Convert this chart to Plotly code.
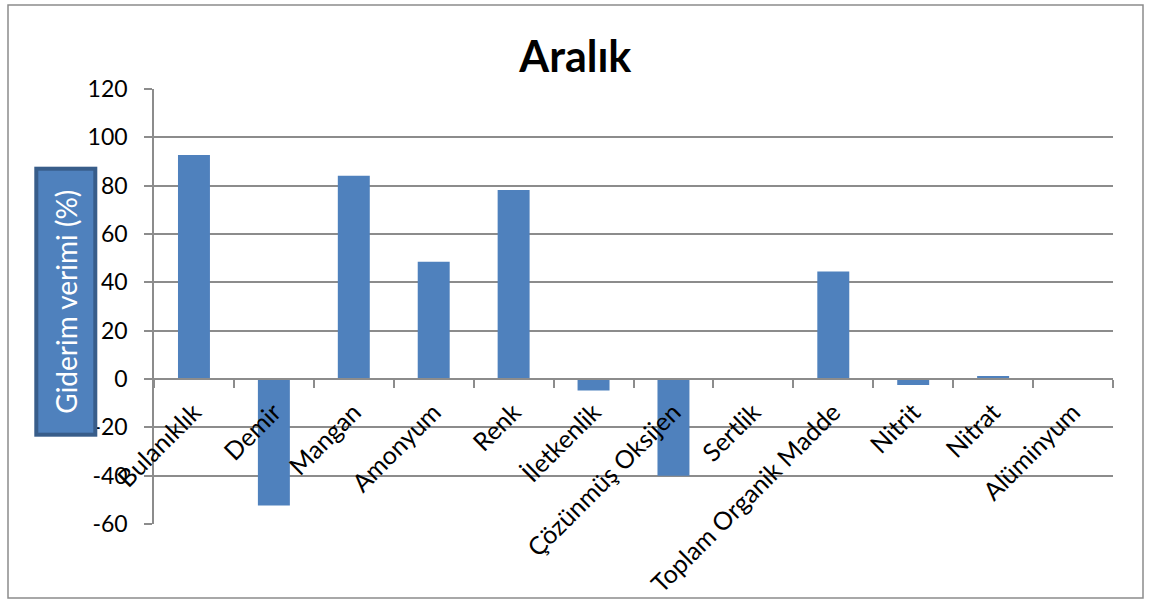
import plotly.graph_objects as go

# Giderim verimi, Aralık ayı
categories = ["Bulanıklık", "Demir", "Mangan", "Amonyum", "Renk", "İletkenlik",
              "Çözünmüş Oksijen", "Sertlik", "Toplam Organik Madde", "Nitrit",
              "Nitrat", "Alüminyum"]
values = [92.7, -52.3, 84.1, 48.5, 78.2, -4.8, -40.0, 0, 44.5, -2.5, 1.2, 0]
y_ticks = [-60, -40, -20, 0, 20, 40, 60, 80, 100, 120]
y_tick_labels = ["-60", "-40", "-20", "0", "20", "40", "60", "80", "100", "120"]

y_min, y_max = y_ticks[0], y_ticks[-1]
zero_pos = (0 - y_min) / (y_max - y_min)

W, H = 1153, 602
FONT = "Lato"
BAR = "#4F81BD"
GRID = "#8C8C8C"

fig = go.Figure(
    go.Bar(x=categories, y=values, marker=dict(color=BAR, line=dict(width=0)),
           showlegend=False)
)

fig.update_layout(
    width=W, height=H,
    margin=dict(l=154, r=40, t=89, b=78, autoexpand=False),
    paper_bgcolor="white", plot_bgcolor="white",
    bargap=0.6,
    title=dict(text="<b>Aralık</b>", x=0.499, xanchor="center", y=0.905, yanchor="middle",
               xref="container",
               font=dict(family=FONT, size=43, color="black")),
    font=dict(family=FONT, color="black"),
    xaxis=dict(
        type="category", anchor="free", position=zero_pos, automargin=False,
        showline=True, linecolor=GRID, linewidth=1.5,
        ticks="outside", ticklen=8, tickwidth=1.5, tickcolor=GRID,
        tickson="boundaries", showgrid=False, zeroline=False,
        tickangle=-45, tickfont=dict(family=FONT, size=25, color="black"),
        ticklabelstandoff=8,
    ),
    yaxis=dict(
        range=[y_min, y_max], tickvals=y_ticks, ticktext=y_tick_labels,
        automargin=False,
        showline=True, linecolor=GRID, linewidth=1.5,
        ticks="outside", ticklen=8, tickwidth=1.5, tickcolor=GRID,
        showgrid=True, gridcolor=GRID, gridwidth=1.5, zeroline=False,
        tickfont=dict(family=FONT, size=23, color="black"),
        ticklabelstandoff=12,
    ),
    shapes=[
        # chart border
        dict(type="rect", xref="paper", yref="paper", layer="below",
             x0=-146 / 959, x1=1 + 30 / 959, y0=-74 / 435, y1=1 + 84 / 435,
             line=dict(color="#8C8C8C", width=1.5), fillcolor="rgba(0,0,0,0)"),
    ],
    annotations=[
        dict(text="Giderim verimi (%)", xref="paper", yref="paper",
             x=-(154 - 66) / 959, y=(524.3 - 302) / 435,
             xanchor="center", yanchor="middle", showarrow=False, textangle=-90,
             width=262, height=55,
             font=dict(family=FONT, size=28, color="white"),
             bgcolor=BAR, bordercolor="#385D8A", borderwidth=4, borderpad=0),
    ],
)

fig.write_html("out.html")
